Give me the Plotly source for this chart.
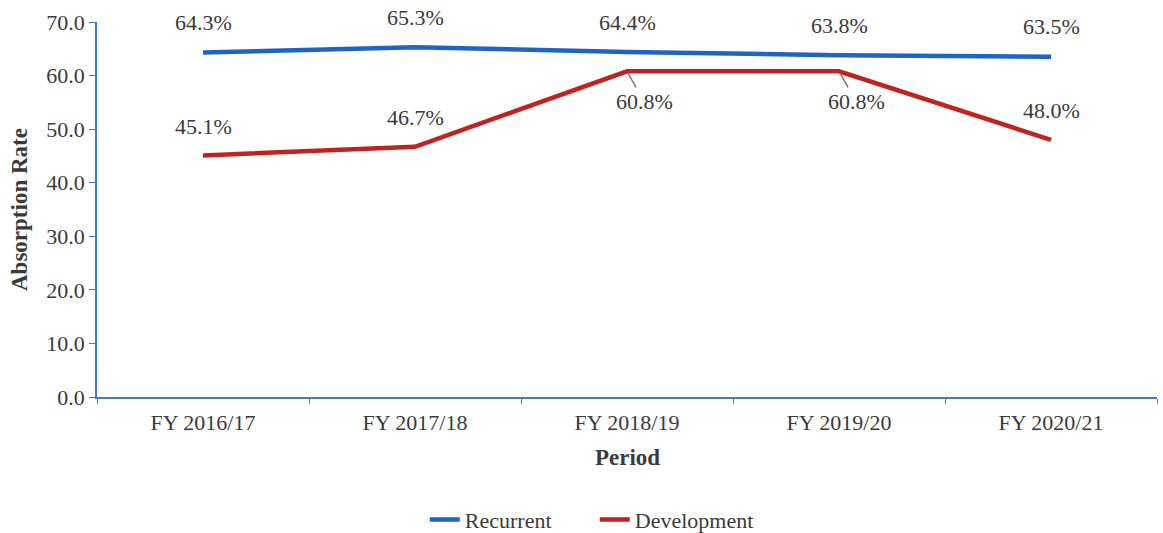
import plotly.graph_objects as go

periods = ["FY 2016/17", "FY 2017/18", "FY 2018/19", "FY 2019/20", "FY 2020/21"]
recurrent = [64.3, 65.3, 64.4, 63.8, 63.5]
development = [45.1, 46.7, 60.8, 60.8, 48.0]
y_ticks = [0, 10, 20, 30, 40, 50, 60, 70]

FONT = "Liberation Serif"
TXT = "#3a3a3a"
AXIS = "#4a78c8"

fig = go.Figure()
fig.add_trace(go.Scatter(x=periods, y=recurrent, mode="lines", name="Recurrent",
                         line=dict(color="#1f63c6", width=4.5)))
fig.add_trace(go.Scatter(x=periods, y=development, mode="lines", name="Development",
                         line=dict(color="#c0231f", width=4.5)))

annotations = []
for p, v in zip(periods, recurrent):
    annotations.append(dict(x=p, y=v, text=f"{v:.1f}%", showarrow=False,
                            yshift=30, font=dict(family=FONT, size=22, color=TXT)))
for i, (p, v) in enumerate(zip(periods, development)):
    if i in (2, 3):
        annotations.append(dict(x=p, y=v, text=f"{v:.1f}%", showarrow=True,
                                arrowhead=0, arrowwidth=1.5, arrowcolor="#7a7a7a",
                                ax=17, ay=30, standoff=2,
                                font=dict(family=FONT, size=22, color=TXT)))
    else:
        annotations.append(dict(x=p, y=v, text=f"{v:.1f}%", showarrow=False,
                                yshift=29, font=dict(family=FONT, size=22, color=TXT)))

# axis titles
annotations.append(dict(xref="paper", yref="paper", x=0.5, y=0, yshift=-60, yanchor="middle",
                        text="<b>Period</b>", showarrow=False,
                        font=dict(family=FONT, size=23, color=TXT)))
annotations.append(dict(xref="paper", yref="paper", x=0, xshift=-92, y=0.5,
                        text="<b>Absorption Rate</b>", showarrow=False, textangle=-90,
                        font=dict(family=FONT, size=23, color=TXT)))

fig.update_layout(
    width=1163, height=533,
    margin=dict(l=97, r=6, t=22, b=136),
    plot_bgcolor="white", paper_bgcolor="white",
    font=dict(family=FONT, size=22, color=TXT),
    annotations=annotations,
    showlegend=True,
    legend=dict(orientation="h", xref="paper", x=0.4696, xanchor="center",
                yref="container", y=0.025, yanchor="middle",
                font=dict(family=FONT, size=22, color=TXT),
                entrywidth=125, traceorder="normal"),
    xaxis=dict(
        range=[-0.5, 4.5], showline=True, linecolor=AXIS, linewidth=1.5,
        ticks="outside", tickson="boundaries", tickcolor=AXIS, ticklen=5,
        ticklabelstandoff=5,
        showgrid=False, zeroline=False, automargin=False,
        tickfont=dict(family=FONT, size=22, color=TXT),
    ),
    yaxis=dict(
        range=[0, 70], tickvals=y_ticks, tickformat=".1f",
        showline=True, linecolor=AXIS, linewidth=1.5,
        ticks="outside", tickcolor=AXIS, ticklen=6,
        showgrid=False, zeroline=False, automargin=False,
        tickfont=dict(family=FONT, size=22, color=TXT),
    ),
)

fig.write_html("out.html", config={"displayModeBar": False},
               post_script="document.body.style.margin='0';document.body.style.overflow='hidden';")
